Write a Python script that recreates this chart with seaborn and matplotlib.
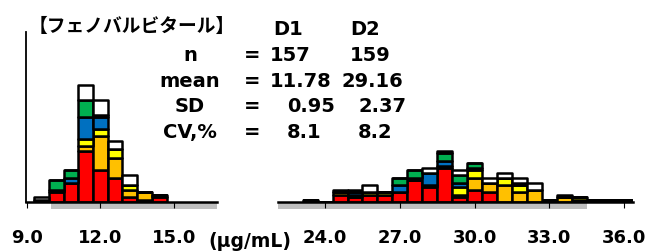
import matplotlib
matplotlib.use("Agg")
import matplotlib.pyplot as plt
import seaborn as sns
import pandas as pd
from matplotlib.patches import Rectangle

plt.rcParams['font.family'] = ['DejaVu Sans', 'Noto Sans CJK JP']

# bins of 0.6 ug/mL, left edges
bin_width = 0.6
d1_bins = [9.3, 9.9, 10.5, 11.1, 11.7, 12.3, 12.9, 13.5, 14.1]
d2_bins = [23.1, 23.7, 24.3, 24.9, 25.5, 26.1, 26.7, 27.3, 27.9, 28.5, 29.1,
           29.7, 30.3, 30.9, 31.5, 32.1, 32.7, 33.3, 33.9, 34.5, 35.1, 35.7]

# counts per bin, by colour group (bottom -> top in each stack)
d1_red    = [1, 4, 8, 21, 13, 10, 2, 1, 2]
d1_orange = [0, 1, 0, 2, 14, 8, 3, 3, 1]
d1_yellow = [0, 0, 0, 3, 3, 4, 2, 0, 0]
d1_blue   = [0, 0, 2, 9, 5, 0, 0, 0, 0]
d1_green  = [0, 4, 3, 7, 1, 0, 0, 0, 0]
d1_white  = [1, 0, 0, 6, 6, 3, 4, 0, 0]

d2_red    = [1, 0, 3, 2, 3, 3, 4, 9, 6, 14, 2, 5, 4, 0, 0, 0, 1, 0, 1, 1, 1, 1]
d2_orange = [0, 0, 1, 0, 0, 0, 0, 0, 1, 1, 1, 5, 4, 7, 4, 5, 0, 2, 0, 0, 0, 0]
d2_yellow = [0, 0, 0, 1, 1, 1, 0, 0, 0, 0, 3, 3, 0, 3, 3, 0, 0, 0, 1, 0, 0, 0]
d2_blue   = [0, 0, 0, 1, 0, 0, 3, 1, 5, 2, 2, 1, 0, 0, 0, 0, 0, 0, 0, 0, 0, 0]
d2_green  = [0, 0, 0, 0, 0, 0, 3, 3, 0, 3, 3, 2, 0, 0, 1, 0, 0, 0, 0, 0, 0, 0]
d2_white  = [0, 0, 1, 1, 3, 0, 0, 0, 2, 1, 2, 0, 2, 2, 2, 3, 0, 1, 0, 0, 0, 0]

groups = ['red', 'orange', 'yellow', 'blue', 'green', 'white']
palette = {'red': '#FF0000', 'orange': '#FFC000', 'yellow': '#FFFF00',
           'blue': '#0070C0', 'green': '#00B050', 'white': '#FFFFFF'}

d1_ticks = [9, 12, 15]
d1_labels = ['9.0', '12.0', '15.0']
d2_ticks = [24, 27, 30, 33, 36]
d2_labels = ['24.0', '27.0', '30.0', '33.0', '36.0']

stat_names = ['n', 'mean', 'SD', 'CV,%']
d1_stats = ['157', '11.78', '0.95', '8.1']
d2_stats = ['159', '29.16', '2.37', '8.2']


def long_table(bins, series):
    rows = []
    for g, counts in zip(groups, series):
        for left, c in zip(bins, counts):
            rows.append({'value': left + bin_width / 2, 'count': c, 'grade': g})
    return pd.DataFrame(rows)


df1 = long_table(d1_bins, [d1_red, d1_orange, d1_yellow, d1_blue, d1_green, d1_white])
df2 = long_table(d2_bins, [d2_red, d2_orange, d2_yellow, d2_blue, d2_green, d2_white])

W, H = 651, 253
fig = plt.figure(figsize=(W / 100, H / 100), dpi=100)
ax1 = fig.add_axes([26 / W, 50 / H, 191 / W, 170 / H])
ax2 = fig.add_axes([278 / W, 50 / H, 355 / W, 170 / H])

panels = [
    (ax1, df1, d1_bins, (8.97, 16.75), d1_ticks, d1_labels),
    (ax2, df2, d2_bins, (22.11, 36.36), d2_ticks, d2_labels),
]
for ax, df, bins, xlim, ticks, labels in panels:
    sns.histplot(data=df, x='value', weights='count', hue='grade',
                 hue_order=groups[::-1], palette=palette, multiple='stack',
                 binwidth=bin_width, binrange=(bins[0], bins[-1] + bin_width),
                 edgecolor='black', linewidth=1.8, alpha=1,
                 legend=False, ax=ax)
    for p in ax.patches:
        p.set_joinstyle('round')
    ax.set_xlim(*xlim)
    ax.set_ylim(0, 70)
    ax.set_xlabel('')
    ax.set_ylabel('')
    ax.set_yticks([])
    ax.set_xticks(ticks, labels, fontweight='bold')
    ax.tick_params(axis='x', direction='out', length=4.5, width=0.8,
                   pad=14, labelsize=13, color='black')
    for s in ['top', 'right']:
        ax.spines[s].set_visible(False)
    ax.spines['bottom'].set_linewidth(1.8)
    ax.spines['bottom'].set_zorder(3)

ax1.spines['left'].set_linewidth(1.3)
ax2.spines['left'].set_visible(False)

# grey band under the axis
band_h = 7 / 170
ax1.add_patch(Rectangle((10.0, -band_h), 16.75 - 10.0, band_h, transform=ax1.get_xaxis_transform(),
                        facecolor='#BFBFBF', edgecolor='none', clip_on=False, zorder=0.5))
ax2.add_patch(Rectangle((22.11, -band_h), 34.5 - 22.11, band_h, transform=ax2.get_xaxis_transform(),
                        facecolor='#BFBFBF', edgecolor='none', clip_on=False, zorder=0.5))

# texts
def put(x, y, s, **kw):
    fig.text(x / W, 1 - y / H, s, **kw)

put(132, 32, '【フェノバルビタール】', family=['Noto Sans CJK JP'], fontweight='bold',
    fontsize=13.5, ha='center', va='baseline')
put(288, 35, 'D1', fontsize=14, fontweight='bold', ha='center', va='baseline')
put(365, 35, 'D2', fontsize=14, fontweight='bold', ha='center', va='baseline')

row_y = [61, 87, 112.5, 138]
d1_x = [270, 270, 287, 287]
d2_x = [350, 342, 358, 358]
for i, name in enumerate(stat_names):
    y = row_y[i]
    put(190, y, name, fontsize=14, fontweight='bold', ha='center', va='baseline')
    put(252, y, '=', fontsize=14, fontweight='bold', ha='center', va='baseline')
    put(d1_x[i], y, d1_stats[i], fontsize=14, fontweight='bold', ha='left', va='baseline')
    put(d2_x[i], y, d2_stats[i], fontsize=14, fontweight='bold', ha='left', va='baseline')

put(249.5, 247, '(μg/mL)', fontsize=13.5, fontweight='bold', ha='center', va='baseline')

fig.savefig('out.png', dpi=100)
